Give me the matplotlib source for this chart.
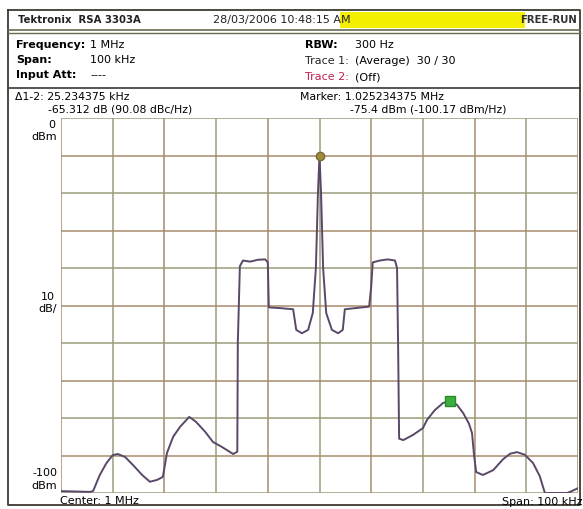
import matplotlib
matplotlib.use("Agg")
import matplotlib.pyplot as plt

# spectrum trace (offset from 1 MHz centre, kHz / dBm)
freq_khz = [-50, -44.4, -43.8, -42.5, -41.2, -40, -39, -37.6, -36.1, -34.3, -32.8,
            -31.4, -30.3, -29.5, -28.3, -27, -25.2, -23.9, -22.1, -20.6, -18.9,
            -16.7, -15.9, -15.8, -15.4, -14.8, -13.4, -11.9, -10.5, -10, -9.8,
            -7.6, -5.1, -4.5, -3.4, -2.2, -1.3, -0.7, -0.3, 0, 0.3, 0.7, 1.3,
            2.4, 3.6, 4.5, 4.9, 6.9, 9.6, 10, 10.3, 11.7, 13.2, 14.6, 15, 15.2,
            15.4, 16.2, 18.1, 20, 20.8, 22.3, 23.9, 25.2, 26.6, 27.8, 28.9,
            29.5, 29.9, 30.3, 31.6, 33.6, 35.5, 36.9, 38.2, 39.7, 41.3, 42.6,
            43.6, 47.9, 48.8, 50]
level_dbm = [-99.5, -99.7, -99.5, -95.2, -92, -89.9, -89.6, -90.4, -92.5, -95.2, -97,
             -96.5, -95.7, -89.3, -85, -82.4, -79.7, -81, -83.7, -86.4, -87.7,
             -89.6, -89, -60, -39.5, -38, -38.3, -37.8, -37.7, -38.5, -50.5,
             -50.7, -51, -56.5, -57.4, -56.5, -52, -40, -20, -10.1, -20, -40, -52,
             -56.5, -57.4, -56.5, -51, -50.7, -50.3, -45, -38.5, -38, -37.7, -38, -40, -60,
             -85.5, -85.9, -84.5, -82.7, -80.5, -77.9, -76, -75.4, -76.5, -78.7, -81.5,
             -84, -90, -94.4, -95.2, -93.9, -91, -89.5, -89.1, -89.8, -92, -95.5,
             -100, -100, -99.5, -98.7]

marker1 = (0.0, -10.09)
marker2 = (25.234375, -75.4)

W, H = 583, 509
fig = plt.figure(figsize=(W / 100, H / 100), dpi=100)
fig.patch.set_facecolor("white")

# frame / header drawn in pixel coordinates
deco = fig.add_axes([0, 0, 1, 1])
deco.set_xlim(0, W)
deco.set_ylim(H, 0)
deco.axis("off")

edge = "#3a3a30"
deco.plot([8, 580, 580, 8, 8], [10, 10, 505, 505, 10], color=edge, lw=1.3)
deco.plot([8, 580], [30, 30], color="#6a6a50", lw=1.2)
deco.plot([8, 580], [33, 33], color="#6a6a50", lw=1.0)
deco.plot([8, 580], [88, 88], color=edge, lw=1.2)
deco.add_patch(plt.Rectangle((340, 12), 185, 16, color="#f5f000", lw=0))

fs = 8.0
deco.text(18, 20, "Tektronix  RSA 3303A", fontsize=7.3, weight="bold", va="center", color="#222")
deco.text(213, 20, "28/03/2006 10:48:15 AM", fontsize=fs, va="center", color="#222")
deco.text(577, 20, "FREE-RUN", fontsize=7.3, weight="bold", va="center", ha="right", color="#333")

deco.text(16, 45, "Frequency:", fontsize=fs, weight="bold", va="center")
deco.text(90, 45, "1 MHz", fontsize=fs, va="center")
deco.text(16, 60, "Span:", fontsize=fs, weight="bold", va="center")
deco.text(90, 60, "100 kHz", fontsize=fs, va="center")
deco.text(16, 75, "Input Att:", fontsize=fs, weight="bold", va="center")
deco.text(90, 75, "----", fontsize=fs, va="center")
deco.text(305, 45, "RBW:", fontsize=fs, weight="bold", va="center")
deco.text(355, 45, "300 Hz", fontsize=fs, va="center")
deco.text(305, 61, "Trace 1:", fontsize=fs, va="center", color="#222")
deco.text(355, 61, "(Average)  30 / 30", fontsize=fs, va="center")
deco.text(305, 77, "Trace 2:", fontsize=fs, va="center", color="#c0204a")
deco.text(355, 77, "(Off)", fontsize=fs, va="center")

deco.text(15, 97, "Δ1-2: 25.234375 kHz", fontsize=7.8, va="center")
deco.text(48, 109, "-65.312 dB (90.08 dBc/Hz)", fontsize=7.8, va="center")
deco.text(300, 97, "Marker: 1.025234375 MHz", fontsize=7.8, va="center")
deco.text(350, 109, "-75.4 dBm (-100.17 dBm/Hz)", fontsize=7.8, va="center")

deco.text(55, 125, "0", fontsize=fs, ha="right", va="center")
deco.text(57, 137, "dBm", fontsize=fs, ha="right", va="center")
deco.text(55, 297, "10", fontsize=fs, ha="right", va="center")
deco.text(57, 309, "dB/", fontsize=fs, ha="right", va="center")
deco.text(57, 473, "-100", fontsize=fs, ha="right", va="center")
deco.text(57, 486, "dBm", fontsize=fs, ha="right", va="center")
deco.text(60, 501, "Center: 1 MHz", fontsize=fs, va="center")
deco.text(583, 502, "Span: 100 kHz", fontsize=fs, ha="right", va="center")

# spectrum plot
x0, x1, y0, y1 = 61, 578, 118, 493
ax = fig.add_axes([x0 / W, 1 - y1 / H, (x1 - x0) / W, (y1 - y0) / H])
ax.set_facecolor("none")
ax.set_xlim(-50, 50)
ax.set_ylim(-100, 0)
for s in ax.spines.values():
    s.set_visible(False)
ax.set_xticks([])
ax.set_yticks([])

grid_cols = ["#a98b6c", "#9d9c7a"]
for i, v in enumerate(range(-50, 51, 10)):
    ax.axvline(v, color=grid_cols[i % 2], lw=1.1, zorder=1)
for i, v in enumerate(range(-100, 1, 10)):
    ax.axhline(v, color=grid_cols[(i + 1) % 2], lw=1.1, zorder=1)

ax.plot(freq_khz, level_dbm, color="#5a4868", lw=1.4, zorder=3, clip_on=True)
ax.plot(*marker1, marker="o", ms=6, color="#a08a40", mec="#7a6a30", zorder=4)
ax.plot(*marker2, marker="s", ms=7, color="#3cae3c", mec="#2a8a2a", zorder=4)

fig.savefig("out.png", dpi=100)
